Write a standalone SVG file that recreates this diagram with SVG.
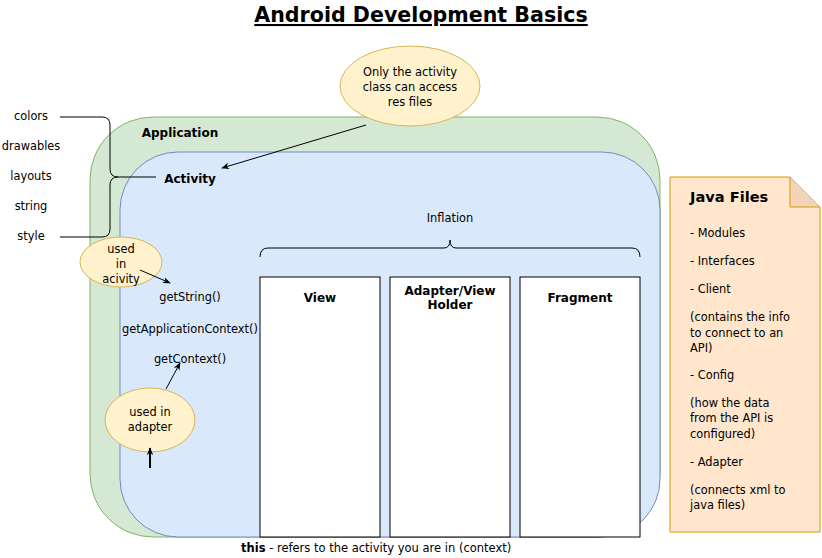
<svg xmlns="http://www.w3.org/2000/svg" width="822" height="558" viewBox="0 0 822 558">
<style>
text{font-family:"DejaVu Sans",Verdana,sans-serif;font-size:11.4px;fill:#000}
.c{text-anchor:middle}
.b{font-weight:bold}
.ell{fill:#fff2cc;stroke:#d6b656;stroke-width:1}
.box{fill:#fff;stroke:#000;stroke-width:1}
.ln{fill:none;stroke:#000;stroke-width:1}
</style>
<defs>
<marker id="ah" viewBox="0 0 10 10" refX="9" refY="5" markerWidth="8" markerHeight="8" orient="auto" markerUnits="userSpaceOnUse">
<path d="M0,1 L10,5 L0,9 L3,5 Z" fill="#000"/>
</marker>
</defs>
<rect width="822" height="558" fill="#fff"/>
<g id="title">
<text x="421" y="22" class="c b" style="font-size:20.6px;text-decoration:underline">Android Development Basics </text>
</g>
<g id="application">
<rect x="90" y="117" width="570" height="420" rx="63" ry="63" fill="#d5e8d4" stroke="#82b366"/>
<text x="180" y="137" class="c b" style="font-size:12px">Application</text>
</g>
<g id="activity">
<rect x="120" y="152" width="540" height="385" rx="58" ry="58" fill="#dae8fc" stroke="#6c8ebf"/>
<text x="190" y="183" class="c b" style="font-size:12px">Activity</text>
</g>
<g id="res-list">
<text x="31" y="120" class="c">colors</text>
<text x="31" y="150" class="c">drawables</text>
<text x="31" y="180" class="c">layouts</text>
<text x="31" y="210" class="c">string</text>
<text x="31" y="240" class="c">style</text>
</g>
<g id="inflation">
<text x="450" y="222" class="c">Inflation</text>
<path class="ln" d="M260,257 Q260,248 268,248 L444,248 Q450,248 450,240 Q450,248 456,248 L632,248 Q640,248 640,257"/>
</g>
<g id="view"><rect class="box" x="260" y="277" width="120" height="260"/><text x="320" y="302" class="c b" style="font-size:12px">View</text></g>
<g id="adapter"><rect class="box" x="390" y="277" width="120" height="260"/><text x="450" y="295" class="c b" style="font-size:12px">Adapter/View</text><text x="450" y="309" class="c b" style="font-size:12px">Holder</text></g>
<g id="fragment"><rect class="box" x="520" y="277" width="120" height="260"/><text x="580" y="302" class="c b" style="font-size:12px">Fragment</text></g>
<g id="methods">
<text x="190" y="301" class="c">getString()</text>
<text x="190" y="333" class="c">getApplicationContext()</text>
<text x="190" y="363" class="c">getContext()</text>
</g>
<g id="note-res">
<ellipse class="ell" cx="410" cy="86" rx="70" ry="40"/>
<text x="410" y="76" class="c">Only the activity</text>
<text x="410" y="91" class="c">class can access</text>
<text x="410" y="106" class="c">res files</text>
</g>
<g id="used-activity">
<ellipse class="ell" cx="121" cy="262" rx="41" ry="25"/>
<text x="121" y="253" class="c">used</text>
<text x="121" y="268" class="c">in</text>
<text x="121" y="283" class="c">acivity</text>
</g>
<g id="used-adapter">
<ellipse class="ell" cx="150" cy="420" rx="45" ry="32"/>
<text x="150" y="416" class="c">used in</text>
<text x="150" y="431" class="c">adapter</text>
</g>
<g id="java-files">
<path d="M670,177 L790,177 L820,207 L820,532 L670,532 Z" fill="#ffe6cc" stroke="#d79b00"/>
<path d="M790,177 L790,207 L820,207" fill="#f2d5b8" stroke="#d79b00"/>
<text x="690" y="202" class="b" style="font-size:14.6px">Java Files</text>
<text x="690" y="237">- Modules</text>
<text x="690" y="265">- Interfaces</text>
<text x="690" y="293">- Client</text>
<text x="690" y="321">(contains the info</text>
<text x="690" y="337">to connect to an</text>
<text x="690" y="352">API)</text>
<text x="690" y="379">- Config</text>
<text x="690" y="407">(how the data</text>
<text x="690" y="422">from the API is</text>
<text x="690" y="438">configured)</text>
<text x="690" y="466">- Adapter</text>
<text x="690" y="494">(connects xml to</text>
<text x="690" y="509">java files)</text>
</g>
<g id="footer">
<text x="241" y="552" style="font-size:11.5px"><tspan font-weight="bold">this</tspan> - refers to the activity you are in (context)</text>
</g>
<g id="connectors">
<path class="ln" d="M60,117 L102,117 Q110,117 110,125 L110,169 Q110,177 118,177 Q110,177 110,185 L110,229 Q110,237 102,237 L60,237"/>
<path class="ln" d="M118,177 L156,177"/>
<path class="ln" d="M366,125 L222,168" marker-end="url(#ah)"/>
<path class="ln" d="M140,270 L170,283" marker-end="url(#ah)"/>
<path class="ln" d="M166,389 L180,363" marker-end="url(#ah)"/>
<path class="ln" style="stroke-width:2" d="M150,468 L150,448" marker-end="url(#ah)"/>
</g>
</svg>
